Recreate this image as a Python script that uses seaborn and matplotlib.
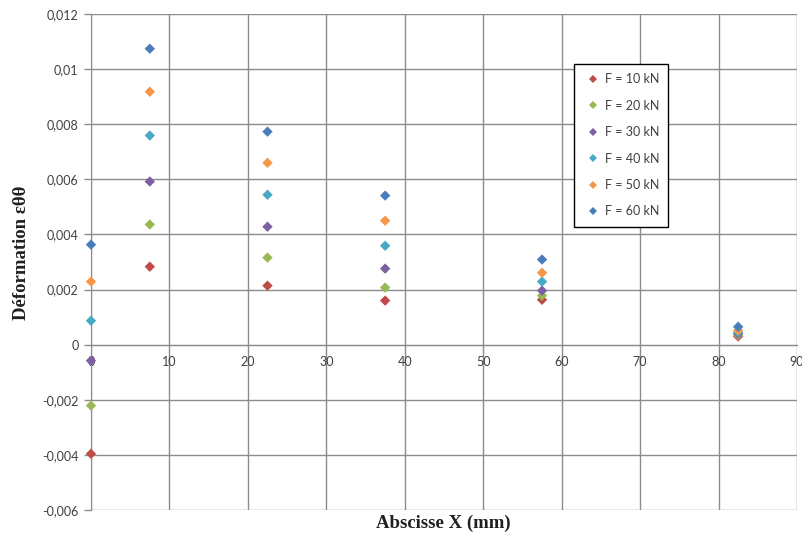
import matplotlib
matplotlib.use("Agg")
import matplotlib.pyplot as plt
import matplotlib.ticker as mticker
import pandas as pd
import seaborn as sns


x_positions = [0, 7.5, 22.5, 37.5, 57.5, 82.5]

eps_10kn = [-0.00396, 0.00283, 0.00214, 0.00160, 0.00163, 0.00030]
eps_20kn = [-0.00221, 0.00436, 0.00316, 0.00207, 0.00178, 0.00035]
eps_30kn = [-0.00058, 0.00592, 0.00428, 0.00276, 0.00196, 0.00040]
eps_40kn = [0.00087, 0.00759, 0.00544, 0.00359, 0.00229, 0.00045]
eps_50kn = [0.00229, 0.00918, 0.00660, 0.00450, 0.00261, 0.00052]
eps_60kn = [0.00363, 0.01074, 0.00773, 0.00541, 0.00309, 0.00065]

series_labels = ["F = 10 kN", "F = 20 kN", "F = 30 kN", "F = 40 kN", "F = 50 kN", "F = 60 kN"]
series_colors = ["#BE4B48", "#98B954", "#7D60A0", "#46AAC5", "#F79646", "#4A7EBB"]


def _fmt_y(v, _pos):
  s = f"{v:.3f}".rstrip("0").rstrip(".")
  if s in ("-0", ""):
    s = "0"
  return s.replace(".", ",")


def main() -> None:
  sns.set_style("white")
  plt.rcParams["font.family"] = ["Lato", "DejaVu Sans"]

  all_series = [eps_10kn, eps_20kn, eps_30kn, eps_40kn, eps_50kn, eps_60kn]
  df = pd.concat(
    [
      pd.DataFrame({"x": x_positions, "eps": vals, "load": label})
      for vals, label in zip(all_series, series_labels)
    ],
    ignore_index=True,
  )

  fig = plt.figure(figsize=(8.03, 5.38), dpi=100)
  ax = fig.add_axes([0.1133, 0.052, 0.8792, 0.922])

  sns.scatterplot(
    data=df,
    x="x",
    y="eps",
    hue="load",
    hue_order=series_labels,
    palette=series_colors,
    marker="D",
    s=28,
    linewidth=0,
    ax=ax,
    zorder=3,
  )
  for coll in ax.collections:
    coll.set_clip_on(False)

  ax.set_xlim(0, 90)
  ax.set_ylim(-0.006, 0.012)
  ax.xaxis.set_major_locator(mticker.MultipleLocator(10))
  ax.yaxis.set_major_locator(mticker.MultipleLocator(0.002))
  ax.yaxis.set_major_formatter(mticker.FuncFormatter(_fmt_y))
  ax.xaxis.set_major_formatter(mticker.FuncFormatter(lambda v, p: f"{v:g}"))

  ax.grid(True, color="#8c8c8c", linewidth=1)
  ax.set_axisbelow(True)
  for side in ["top", "right"]:
    ax.spines[side].set_visible(False)
  ax.spines["left"].set_color("#8c8c8c")
  ax.spines["bottom"].set_color("#8c8c8c")
  ax.spines["bottom"].set_position(("data", 0))

  ax.tick_params(axis="y", length=5, width=1, color="#8c8c8c", labelsize=9, labelcolor="#404040", pad=4, left=True)
  ax.tick_params(axis="x", length=0, labelsize=9, labelcolor="#404040", pad=8)

  ax.set_xlabel("")
  ax.set_ylabel("")
  fig.text(0.552, 0.027, "Abscisse X (mm)", family="Liberation Serif", fontweight="bold",
           fontsize=13.5, ha="center", va="center", color="#202020")
  fig.text(0.027, 0.53, "Déformation εθθ", family="Liberation Serif", fontweight="bold",
           fontsize=13.5, ha="center", va="center", rotation=90, color="#202020")

  handles, labels = ax.get_legend_handles_labels()
  leg = ax.legend(
    handles,
    labels,
    loc="upper left",
    bbox_to_anchor=(0.684, 0.899),
    borderaxespad=0,
    frameon=True,
    fancybox=False,
    fontsize=9,
    labelspacing=1.15,
    handletextpad=0.1,
    handlelength=1.6,
    borderpad=0.75,
    markerscale=0.85,
  )
  leg.get_frame().set_edgecolor("black")
  leg.get_frame().set_linewidth(1)
  leg.get_frame().set_alpha(1)
  for t in leg.get_texts():
    t.set_color("#404040")

  fig.savefig("out.png", dpi=100)
  plt.close(fig)


if __name__ == "__main__":
  main()
